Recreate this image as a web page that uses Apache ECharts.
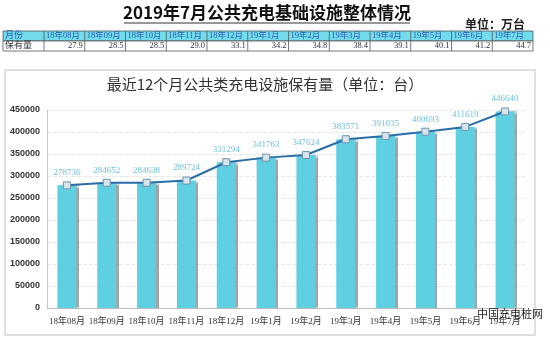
<!DOCTYPE html>
<html><head><meta charset="utf-8">
<script src="https://cdn.jsdelivr.net/npm/echarts@6/dist/echarts.min.js"></script>
<style>html,body{margin:0;padding:0;background:#fff}#c{width:550px;height:339px}</style>
</head><body><div id="c"></div>
<script>
const mainTitle = '2019年7月公共充电基础设施整体情况';
const unitText = '单位：万台';
const chartTitle = '最近12个月公共类充电设施保有量（单位：台）';
const tableHead = ['月份', '保有量'];
const months = ['18年08月','18年09月','18年10月','18年11月','18年12月','19年1月','19年2月','19年3月','19年4月','19年5月','19年6月','19年7月'];
const tableValues = ['27.9','28.5','28.5','29.0','33.1','34.2','34.8','38.4','39.1','40.1','41.2','44.7'];
const stock = [278736,284652,284638,289724,331294,341763,347624,383571,391035,400693,411619,446640];
const yMin = 0, yMax = 450000, yStep = 50000;
const watermark = '中国充电桩网';

const serif = '"Liberation Serif","DejaVu Serif","Noto Sans CJK SC",serif';
const cjk = '"Noto Sans CJK SC","Noto Sans",sans-serif';

const graphics = [];
// main title + underline
graphics.push({type:'text', x:267, y:13, style:{text:mainTitle, font:'bold 17px ' + cjk, fill:'#111', textAlign:'center', textVerticalAlign:'middle'}});
graphics.push({type:'line', shape:{x1:124,y1:23,x2:410,y2:23}, style:{stroke:'#333', lineWidth:1}});
graphics.push({type:'text', x:525, y:24, style:{text:unitText, font:'bold 12px ' + cjk, fill:'#222', textAlign:'right', textVerticalAlign:'middle'}});

// table
const tx0 = 3, firstW = 41, colW = 40.75, ty0 = 31, rowH = 10;
const tableW = firstW + colW * months.length;
graphics.push({type:'rect', shape:{x:tx0, y:ty0, width:tableW, height:rowH}, style:{fill:'#72dbec', stroke:'#555', lineWidth:0.8}});
graphics.push({type:'rect', shape:{x:tx0, y:ty0+rowH, width:tableW, height:rowH}, style:{fill:'#fff', stroke:'#555', lineWidth:0.8}});
graphics.push({type:'text', x:tx0+2, y:ty0+rowH/2, style:{text:tableHead[0], font:'9px ' + serif, fill:'#2d5fb0', textVerticalAlign:'middle'}});
graphics.push({type:'text', x:tx0+2, y:ty0+rowH*1.5, style:{text:tableHead[1], font:'9px ' + serif, fill:'#333', textVerticalAlign:'middle'}});
months.forEach((m, i) => {
  const x = tx0 + firstW + colW * i;
  graphics.push({type:'line', shape:{x1:x, y1:ty0, x2:x, y2:ty0+rowH*2}, style:{stroke:'#555', lineWidth:0.8}});
  graphics.push({type:'text', x:x+2, y:ty0+rowH/2, style:{text:m, font:'8.5px ' + serif, fill:'#2d5fb0', textVerticalAlign:'middle'}});
  graphics.push({type:'text', x:x+colW-2, y:ty0+rowH*1.5, style:{text:tableValues[i], font:'8.5px ' + serif, fill:'#333', textAlign:'right', textVerticalAlign:'middle'}});
});

// chart panel
graphics.push({type:'rect', shape:{x:5, y:70, width:530, height:265}, style:{fill:'none', stroke:'#d6d6d6', lineWidth:1.5}});
graphics.push({type:'text', x:265, y:84, style:{text:chartTitle, font:'15px ' + cjk, fill:'#333', textAlign:'center', textVerticalAlign:'middle'}});
graphics.push({type:'text', x:477, y:314, z:100, style:{text:watermark, font:'11px ' + cjk, fill:'#222', textVerticalAlign:'middle'}});

const chart = echarts.init(document.getElementById('c'));
chart.setOption({
  animation:false,
  backgroundColor:'#fff',
  graphic: graphics,
  grid:{left:47, right:25, top:110, bottom:31},
  xAxis:{type:'category', data:months,
    axisLine:{lineStyle:{color:'#bdbdbd'}}, axisTick:{show:false},
    axisLabel:{interval:0, fontSize:9, color:'#333', fontFamily:serif, margin:9}},
  yAxis:{type:'value', min:yMin, max:yMax, interval:yStep,
    axisLine:{show:true, lineStyle:{color:'#c8c8c8'}}, axisTick:{show:false},
    axisLabel:{fontSize:9, fontWeight:'bold', color:'#333', fontFamily:'"Liberation Sans",Arial,sans-serif', margin:7,
      formatter: v => String(v)},
    splitLine:{lineStyle:{color:'#e6e6e6', type:'dashed'}}},
  series:[
    {type:'bar', data:stock, barWidth:19, z:2,
      itemStyle:{color:'#5fd0e2', shadowColor:'rgba(90,90,90,0.55)', shadowOffsetX:2.5, shadowOffsetY:0, shadowBlur:1}},
    {type:'line', data:stock, z:5, symbol:'rect', symbolSize:7,
      lineStyle:{color:'#2b6ea6', width:2},
      itemStyle:{color:'#d8e4ea', borderColor:'#6f95ad', borderWidth:1},
      label:{show:true, position:'top', distance:4, color:'#6fc0de', fontSize:9, fontFamily:serif}}
  ]
});
</script></body></html>
